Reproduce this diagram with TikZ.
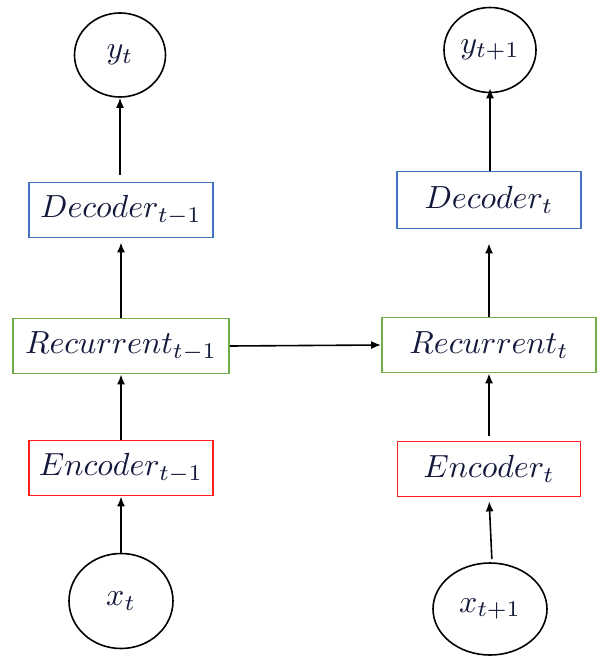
\documentclass[tikz,border=0pt]{standalone}
\usepackage{graphicx}
\usetikzlibrary{shapes.geometric,arrows.meta}
\definecolor{decblue}{RGB}{68,114,196}
\definecolor{recgreen}{RGB}{112,173,71}
\definecolor{encred}{RGB}{255,30,30}
\definecolor{ink}{RGB}{20,25,60}
% enlarged italic label
\newcommand{\biglbl}[1]{\scalebox{3.2}{$#1$}}

\begin{document}
\begin{tikzpicture}[x=1pt,y=-1pt,
  lbl/.style={text=ink},
  blk/.style={lbl, draw, line width=1.8pt, inner sep=0pt, minimum height=55pt},
  unit/.style={lbl, ellipse, draw=black, line width=1.6pt, inner sep=0pt},
  flow/.style={-{Latex[length=10pt,width=8pt]}, line width=1.6pt}]
\useasboundingbox (0,0) rectangle (597,658);

% left time step
\node[unit, minimum width=91pt, minimum height=84pt] (yl) at (120,55) {\biglbl{y_t}};
\node[blk, draw=decblue, minimum width=184pt] (decl) at (121,210) {\biglbl{Decoder_{t-1}}};
\node[blk, draw=recgreen, minimum width=216pt] (recl) at (121,346) {\biglbl{Recurrent_{t-1}}};
\node[blk, draw=encred, minimum width=184pt] (encl) at (121,468) {\biglbl{Encoder_{t-1}}};
\node[unit, minimum width=104pt, minimum height=95pt] (xl) at (121,601) {\biglbl{x_t}};

% right time step
\node[unit, minimum width=92pt, minimum height=85pt] (yr) at (490,50) {\biglbl{y_{t+1}}};
\node[blk, draw=decblue, minimum width=184pt, minimum height=57pt] (decr) at (489,200) {\biglbl{Decoder_t}};
\node[blk, draw=recgreen, minimum width=214pt] (recr) at (489,345) {\biglbl{Recurrent_t}};
\node[blk, draw=encred, minimum width=183pt] (encr) at (489,469) {\biglbl{Encoder_t}};
\node[unit, minimum width=114pt, minimum height=92pt] (xr) at (490,609) {\biglbl{x_{t+1}}};

% connectors
\draw[flow, shorten <=7pt] (decl.north -| yl.south) -- (yl.south);
\draw[flow, shorten >=4pt] (recl.north -| decl.south) -- (decl.south);
\draw[flow] (encl.north -| recl.south) -- (recl.south);
\draw[flow] (xl.north) -- (encl.south -| xl.north);

\draw[flow] (decr.north -| yr.south) -- ([yshift=5pt]yr.south);
\draw[flow, shorten >=14pt] (recr.north) -- (decr.south);
\draw[flow, shorten <=5pt] (encr.north) -- (recr.south);
\draw[flow, shorten <=3pt, shorten >=4pt] ([xshift=2pt]xr.north) -- (encr.south);

\draw[flow] (recl.east) -- (recr.west);
\end{tikzpicture}
\end{document}
